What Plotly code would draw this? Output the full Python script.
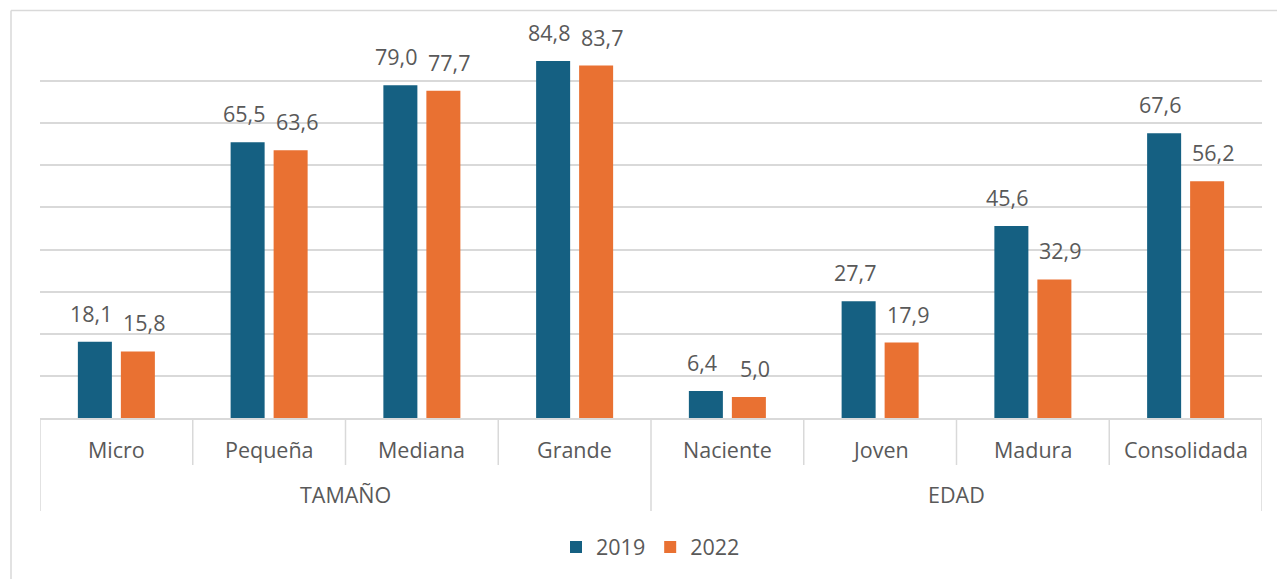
import plotly.graph_objects as go

categories = ["Micro", "Pequeña", "Mediana", "Grande", "Naciente", "Joven", "Madura", "Consolidada"]
groups = ["TAMAÑO", "EDAD"]
group_sizes = [4, 4]
series_2019 = [18.1, 65.5, 79.0, 84.8, 6.4, 27.7, 45.6, 67.6]
series_2022 = [15.8, 63.6, 77.7, 83.7, 5.0, 17.9, 32.9, 56.2]
series_names = ["2019", "2022"]
series_colors = ["#156082", "#E97132"]

OFF = 8  # page body margin of the html page
W, H = 1285 - OFF, 579 - OFF
ML, MR, MT, MB = 40 - OFF, 23, 39 - OFF, 161
PW, PH = W - ML - MR, H - MT - MB
TXT = "#595959"
GRID = "#d9d9d9"
FONT = "Open Sans, sans-serif"
FS = 21.5
BARGAP, BARGROUPGAP = 0.437, 0.209
LABEL_NUDGE = [-4, 6]  # px, keeps neighbouring data labels apart


def py(pix):  # page pixel y -> paper y
    return (OFF + MT + PH - pix) / PH


def px(pix):  # page pixel x -> paper x
    return (pix - OFF - ML) / PW


fig = go.Figure()
all_series = [series_2019, series_2022]
for name, vals, col in zip(series_names, all_series, series_colors):
    fig.add_trace(go.Bar(
        x=categories, y=vals, name=name, marker=dict(color=col, line=dict(width=0)),
    ))

shapes = []
annotations = []

# data labels above each bar (positions follow the grouped-bar layout)
n = len(all_series)
slot = (1 - BARGAP) / n
for k, vals in enumerate(all_series):
    off = -(1 - BARGAP) / 2 + slot * (k + 0.5)
    for i, v in enumerate(vals):
        annotations.append(dict(x=i + off, y=v, xref="x", yref="y", text=f"{v:.1f}".replace(".", ","),
                                showarrow=False, yanchor="bottom", yshift=12, xshift=LABEL_NUDGE[k],
                                font=dict(size=FS, color=TXT, family=FONT)))

# vertical separators of the multi-level axis
bounds = [0]
for s in group_sizes:
    bounds.append(bounds[-1] + s)
for i in range(len(categories) + 1):
    long = i in bounds
    shapes.append(dict(type="line", xref="x", yref="paper", x0=i - 0.5, x1=i - 0.5,
                       y0=0, y1=py(511 if long else 465), line=dict(color=GRID, width=1.5)))
for i, c in enumerate(categories):
    annotations.append(dict(x=i, y=py(449), xref="x", yref="paper", text=c, showarrow=False,
                            yanchor="middle", font=dict(size=FS, color=TXT, family=FONT)))
for g, a, b in zip(groups, bounds[:-1], bounds[1:]):
    annotations.append(dict(x=(a + b - 1) / 2, y=py(494), xref="x", yref="paper", text=g, showarrow=False,
                            yanchor="middle", font=dict(size=FS, color=TXT, family=FONT)))
# chart border (top and left visible)
shapes.append(dict(type="line", xref="paper", yref="paper", x0=px(11), x1=px(1300), y0=py(10.5), y1=py(10.5),
                   line=dict(color=GRID, width=1.5)))
shapes.append(dict(type="line", xref="paper", yref="paper", x0=px(11), x1=px(11), y0=py(10.5), y1=py(600),
                   line=dict(color=GRID, width=1.5)))

fig.update_layout(
    width=W, height=H, margin=dict(l=ML, r=MR, t=MT, b=MB),
    paper_bgcolor="white", plot_bgcolor="white",
    barmode="group", bargap=BARGAP, bargroupgap=BARGROUPGAP,
    font=dict(family=FONT, size=FS, color=TXT),
    showlegend=True,
    legend=dict(orientation="h", x=px(556), xanchor="left", y=py(547), yanchor="middle",
                font=dict(size=FS, color=TXT, family=FONT), itemwidth=30, traceorder="normal"),
    xaxis=dict(type="category", range=[-0.5, len(categories) - 0.5], showticklabels=False,
               showline=True, linecolor=GRID, linewidth=1.5, showgrid=False, ticks="", fixedrange=True),
    yaxis=dict(range=[0, 90], dtick=10, showticklabels=False, showgrid=True, gridcolor=GRID, gridwidth=1.5,
               zeroline=False, ticks="", showline=False),
    shapes=shapes, annotations=annotations,
)

fig.write_html("out.html")
